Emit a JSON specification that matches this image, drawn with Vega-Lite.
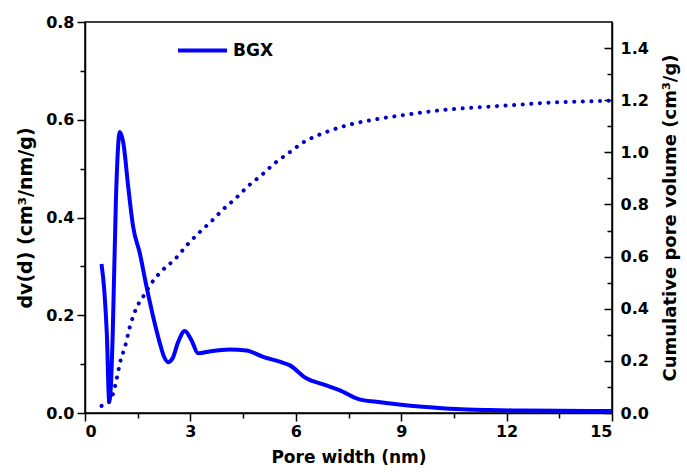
{
  "$schema": "https://vega.github.io/schema/vega-lite/v6.json",
  "width": 527,
  "height": 391,
  "autosize": {"type": "none"},
  "padding": {"left": 85, "top": 22, "right": 75, "bottom": 59},
  "background": "white",
  "config": {
    "font": "DejaVu Sans",
    "view": {"stroke": "black", "strokeWidth": 1.5},
    "axis": {
      "grid": false,
      "labelFont": "DejaVu Sans",
      "labelFontWeight": "bold",
      "labelFontSize": 16,
      "labelColor": "black",
      "titleFont": "DejaVu Sans",
      "titleFontWeight": "bold",
      "titleFontSize": 18,
      "titleColor": "black",
      "domainColor": "black",
      "domainWidth": 1.5,
      "tickColor": "black",
      "tickWidth": 1.5
    }
  },
  "datasets": {
    "psd": [
      {"w": 0.47, "dv": 0.305},
      {"w": 0.55, "dv": 0.25},
      {"w": 0.62, "dv": 0.164},
      {"w": 0.69, "dv": 0.023},
      {"w": 0.74, "dv": 0.06},
      {"w": 0.79, "dv": 0.164},
      {"w": 0.88, "dv": 0.436},
      {"w": 0.99, "dv": 0.575},
      {"w": 1.09, "dv": 0.553},
      {"w": 1.23, "dv": 0.463},
      {"w": 1.37, "dv": 0.381},
      {"w": 1.56, "dv": 0.327},
      {"w": 1.75, "dv": 0.259},
      {"w": 1.94, "dv": 0.197},
      {"w": 2.13, "dv": 0.143},
      {"w": 2.25, "dv": 0.115},
      {"w": 2.37, "dv": 0.104},
      {"w": 2.5, "dv": 0.113},
      {"w": 2.65, "dv": 0.145},
      {"w": 2.84, "dv": 0.168},
      {"w": 3.03, "dv": 0.149},
      {"w": 3.22, "dv": 0.122},
      {"w": 3.55, "dv": 0.126},
      {"w": 4.12, "dv": 0.13},
      {"w": 4.59, "dv": 0.128},
      {"w": 5.07, "dv": 0.115},
      {"w": 5.54, "dv": 0.105},
      {"w": 5.82, "dv": 0.098},
      {"w": 6.3, "dv": 0.071},
      {"w": 6.8, "dv": 0.058},
      {"w": 7.24, "dv": 0.047},
      {"w": 7.81, "dv": 0.028},
      {"w": 8.29, "dv": 0.023},
      {"w": 9.0, "dv": 0.017},
      {"w": 9.61, "dv": 0.013},
      {"w": 10.56, "dv": 0.008},
      {"w": 11.5, "dv": 0.006},
      {"w": 12.44, "dv": 0.005},
      {"w": 13.5, "dv": 0.0045},
      {"w": 15.0, "dv": 0.004}
    ],
    "cum": [
      {"w": 0.47, "cv": 0.027},
      {"w": 0.6, "cv": 0.035},
      {"w": 0.7, "cv": 0.045},
      {"w": 0.8, "cv": 0.075},
      {"w": 0.9, "cv": 0.13},
      {"w": 1.0, "cv": 0.195},
      {"w": 1.14, "cv": 0.255},
      {"w": 1.28, "cv": 0.332},
      {"w": 1.47, "cv": 0.405},
      {"w": 1.66, "cv": 0.447},
      {"w": 1.85, "cv": 0.49},
      {"w": 2.2, "cv": 0.547},
      {"w": 2.56, "cv": 0.59},
      {"w": 2.89, "cv": 0.642},
      {"w": 3.22, "cv": 0.688},
      {"w": 3.6, "cv": 0.736},
      {"w": 3.93, "cv": 0.781},
      {"w": 4.31, "cv": 0.826},
      {"w": 4.64, "cv": 0.87},
      {"w": 5.02, "cv": 0.912},
      {"w": 5.4, "cv": 0.958},
      {"w": 5.82, "cv": 1.0},
      {"w": 6.2, "cv": 1.037},
      {"w": 6.87, "cv": 1.078},
      {"w": 7.58, "cv": 1.108},
      {"w": 8.29, "cv": 1.127},
      {"w": 9.23, "cv": 1.146},
      {"w": 10.23, "cv": 1.163},
      {"w": 11.22, "cv": 1.173},
      {"w": 12.17, "cv": 1.181},
      {"w": 13.12, "cv": 1.19},
      {"w": 14.06, "cv": 1.195},
      {"w": 15.0, "cv": 1.198}
    ]
  },
  "layer": [
    {
      "data": {"name": "psd"},
      "mark": {"type": "line", "strokeWidth": 4, "interpolate": "monotone"},
      "encoding": {
        "x": {
          "field": "w",
          "type": "quantitative",
          "scale": {"domain": [0, 15], "nice": false},
          "axis": {
            "title": "Pore width (nm)",
            "values": [0, 1.5, 3, 4.5, 6, 7.5, 9, 10.5, 12, 13.5, 15],
            "labelExpr": "round(datum.value/1.5)%2==0 ? format(datum.value,'d') : ''",
            "tickSize": {"condition": {"test": "round(datum.value/1.5)%2==0", "value": 8}, "value": 5},
            "labelPadding": 2,
            "titlePadding": 10,
            "labelFontSize": 16,
            "titleFontSize": 17
          }
        },
        "y": {
          "field": "dv",
          "type": "quantitative",
          "scale": {"domain": [0, 0.8], "nice": false},
          "axis": {
            "title": "dv(d) (cm³/nm/g)",
            "values": [0, 0.1, 0.2, 0.3, 0.4, 0.5, 0.6, 0.7, 0.8],
            "labelExpr": "round(datum.value*10)%2==0 ? format(datum.value,'.1f') : ''",
            "tickSize": {"condition": {"test": "round(datum.value*10)%2==0", "value": 8}, "value": 5},
            "labelPadding": 3,
            "titlePadding": 10,
            "titleFontSize": 19
          }
        },
        "color": {
          "datum": "BGX",
          "scale": {"range": ["#0000FF"]},
          "legend": {
            "orient": "none",
            "legendX": 91,
            "legendY": 2,
            "title": null,
            "symbolType": "stroke",
            "symbolSize": 2400,
            "symbolStrokeWidth": 4,
            "labelFont": "DejaVu Sans",
            "labelFontWeight": "bold",
            "labelFontSize": 17,
            "labelColor": "black",
            "labelOffset": 4
          }
        }
      }
    },
    {
      "data": {"name": "cum"},
      "mark": {"type": "line", "strokeWidth": 4, "strokeDash": [0.1, 8.5], "strokeCap": "round", "color": "#0000C8", "interpolate": "monotone"},
      "encoding": {
        "x": {"field": "w", "type": "quantitative"},
        "y": {
          "field": "cv",
          "type": "quantitative",
          "scale": {"domain": [0, 1.5], "nice": false},
          "axis": {
            "orient": "right",
            "title": "Cumulative pore volume (cm³/g)",
            "titleAngle": 270,
            "values": [0, 0.1, 0.2, 0.3, 0.4, 0.5, 0.6, 0.7, 0.8, 0.9, 1.0, 1.1, 1.2, 1.3, 1.4],
            "labelExpr": "round(datum.value*10)%2==0 ? format(datum.value,'.1f') : ''",
            "tickSize": {"condition": {"test": "round(datum.value*10)%2==0", "value": -8}, "value": -5},
            "labelPadding": 16,
            "titlePadding": 31
          }
        }
      }
    }
  ],
  "resolve": {"scale": {"y": "independent"}}
}
